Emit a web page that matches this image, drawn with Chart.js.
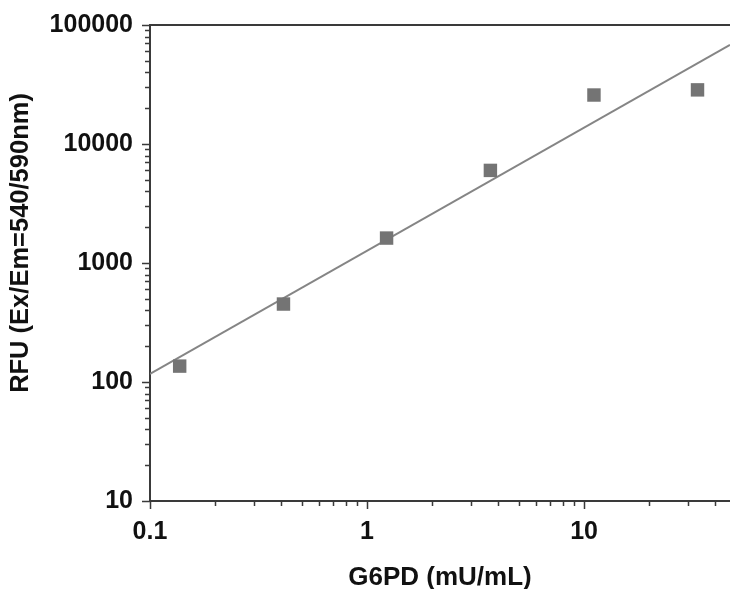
<!DOCTYPE html>
<html>
<head>
<meta charset="utf-8">
<script src="https://cdn.jsdelivr.net/npm/chart.js@4/dist/chart.umd.min.js"></script>
<style>
  html, body { margin: 0; padding: 0; background: #fff; }
  #wrap { width: 730px; height: 589px; }
</style>
</head>
<body>
<div id="wrap"><canvas id="g6pdChart"></canvas></div>
<script>
// G6PD standard curve
const g6pdActivity = [0.137, 0.412, 1.23, 3.7, 11.1, 33.3];
const rfuValues = [136, 452, 1620, 6000, 25800, 28500];

// fitted line end points
const fitX = [0.1, 47];
const fitY = [117, 68000];

const xMin = 0.1, xMax = 47;
const yMin = 10, yMax = 100000;

const axisColor = '#3a3a3a';
const fontFamily = '"Liberation Sans", Arial, sans-serif';

function isPow10(v) {
    const l = Math.log10(v);
    return Math.abs(l - Math.round(l)) < 1e-6;
}

function isNiceTick(v) {
    const p = Math.pow(10, Math.floor(Math.log10(v) + 1e-9));
    const s = v / p;
    return Math.abs(s - Math.round(s)) < 1e-6;
}

// no label overflow padding, the frame is fixed
function noOverflow(scale) {
    scale.paddingTop = 0;
    scale.paddingBottom = 0;
    scale.paddingLeft = 0;
    scale.paddingRight = 0;
}

// tick marks (long for decades, short for the rest) + top frame line + y title
const framePlugin = {
    id: 'frame',
    afterDraw(chart) {
        const ctx = chart.ctx;
        const area = chart.chartArea;
        const xs = chart.scales.x;
        const ys = chart.scales.y;
        ctx.save();
        ctx.strokeStyle = axisColor;
        ctx.lineWidth = 1.5;
        ctx.beginPath();
        ys.ticks.forEach(t => {
            if (!isNiceTick(t.value)) return;
            const py = Math.round(ys.getPixelForValue(t.value)) + 0.5;
            const len = isPow10(t.value) ? 8 : 5;
            ctx.moveTo(area.left - len, py);
            ctx.lineTo(area.left, py);
        });
        xs.ticks.forEach(t => {
            if (!isNiceTick(t.value)) return;
            const px = Math.round(xs.getPixelForValue(t.value)) + 0.5;
            const len = isPow10(t.value) ? 8 : 5;
            ctx.moveTo(px, area.bottom);
            ctx.lineTo(px, area.bottom + len);
        });
        ctx.stroke();

        // top frame line
        ctx.lineWidth = 2;
        ctx.beginPath();
        ctx.moveTo(area.left, area.top);
        ctx.lineTo(chart.width, area.top);
        ctx.stroke();

        // y axis title
        ctx.fillStyle = '#111';
        ctx.font = 'bold 25.5px ' + fontFamily;
        ctx.textAlign = 'center';
        ctx.textBaseline = 'middle';
        ctx.translate(21, 243);
        ctx.rotate(-Math.PI / 2);
        ctx.fillText('RFU (Ex/Em=540/590nm)', 0, 0);
        ctx.restore();
    }
};

const ctx = document.getElementById('g6pdChart');

new Chart(ctx, {
    type: 'scatter',
    data: {
        datasets: [
            {
                label: 'Fit',
                type: 'line',
                data: fitX.map((x, i) => ({ x: x, y: fitY[i] })),
                borderColor: '#858585',
                borderWidth: 2,
                pointRadius: 0,
                fill: false,
                order: 2
            },
            {
                label: 'G6PD',
                data: g6pdActivity.map((x, i) => ({ x: x, y: rfuValues[i] })),
                pointStyle: 'rect',
                pointRadius: 9.5,
                pointBackgroundColor: '#747474',
                pointBorderColor: '#747474',
                pointBorderWidth: 0,
                order: 1
            }
        ]
    },
    options: {
        responsive: true,
        maintainAspectRatio: false,
        animation: false,
        layout: {
            autoPadding: false,
            padding: { top: 25, right: 0, bottom: 0, left: 0 }
        },
        plugins: {
            legend: { display: false },
            tooltip: { enabled: false }
        },
        scales: {
            x: {
                type: 'logarithmic',
                min: xMin,
                max: xMax,
                afterFit(scale) { scale.height = 88; noOverflow(scale); },
                grid: { display: false, drawTicks: false },
                border: { display: true, color: axisColor, width: 2 },
                ticks: {
                    autoSkip: false,
                    maxRotation: 0,
                    padding: 16,
                    color: '#111',
                    font: { family: fontFamily, size: 25, weight: 'bold' },
                    callback: v => isPow10(v) ? String(v) : ''
                },
                title: {
                    display: true,
                    text: 'G6PD (mU/mL)',
                    color: '#111',
                    font: { family: fontFamily, size: 26, weight: 'bold', lineHeight: 1 },
                    padding: { top: 0, bottom: -2 }
                }
            },
            y: {
                type: 'logarithmic',
                min: yMin,
                max: yMax,
                afterFit(scale) { scale.width = 150; noOverflow(scale); },
                grid: { display: false, drawTicks: false },
                border: { display: true, color: axisColor, width: 2 },
                ticks: {
                    autoSkip: false,
                    padding: 17,
                    color: '#111',
                    font: { family: fontFamily, size: 25, weight: 'bold' },
                    callback: v => isPow10(v) ? String(v) : ''
                }
            }
        }
    },
    plugins: [framePlugin]
});
</script>
</body>
</html>
